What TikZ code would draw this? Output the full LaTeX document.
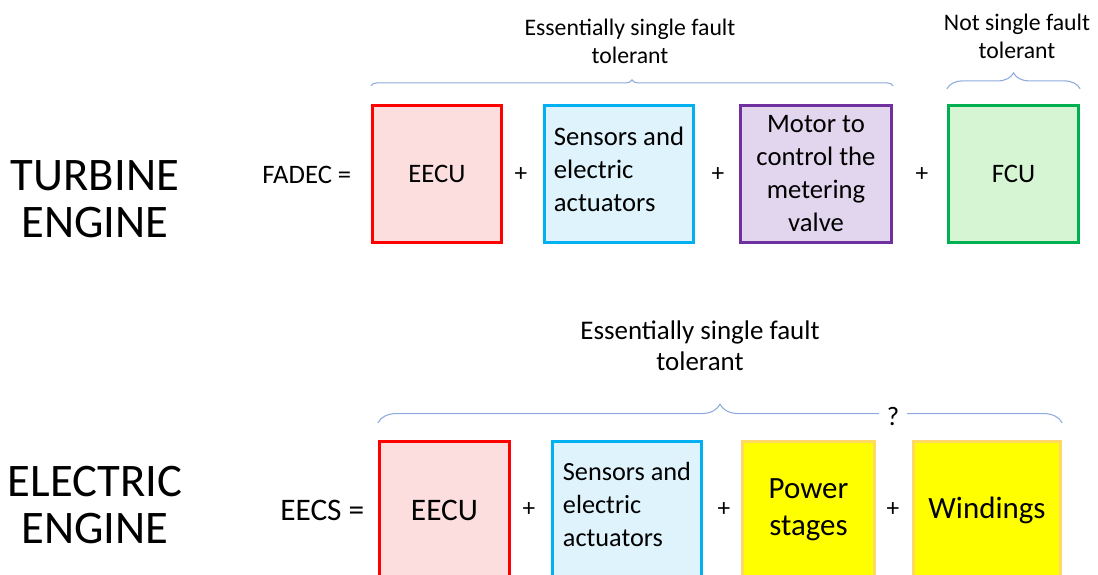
\documentclass[tikz,border=0pt]{standalone}
\usepackage{fontspec}
\setmainfont{Carlito}
\usetikzlibrary{decorations.pathreplacing}

\definecolor{redLine}{HTML}{FF0000}
\definecolor{redFill}{HTML}{FDDEDE}
\definecolor{cyanLine}{HTML}{00B0F0}
\definecolor{cyanFill}{HTML}{DEF3FB}
\definecolor{purpleLine}{HTML}{7030A0}
\definecolor{purpleFill}{HTML}{E2D5EE}
\definecolor{greenLine}{HTML}{00B050}
\definecolor{greenFill}{HTML}{D6F5D2}
\definecolor{yellowLine}{HTML}{FFD966}
\definecolor{yellowFill}{HTML}{FFFF00}
\definecolor{braceBlue}{HTML}{8FAADC}

\begin{document}
\begin{tikzpicture}[x=0.75pt,y=-0.75pt,
    box/.style={draw, line width=2.4pt, inner sep=0pt, minimum height=102.75pt},
    boxtxt/.style={font=\fontsize{20}{24.75}\selectfont},
    plus/.style={font=\fontsize{19}{22}\selectfont},
    engine/.style={align=center, font=\fontsize{35}{35}\selectfont},
    remark/.style={align=center, font=\fontsize{17.8}{21}\selectfont},
    bracket/.style={draw=braceBlue, line width=0.8pt, decorate}]
    \useasboundingbox (0,0) rectangle (1098,574);
    \clip (0,0) rectangle (1098,574);

    % turbine engine
    \node[engine] (turbine) at (95,199) {TURBINE\\ENGINE};
    \node[boxtxt, anchor=east] (fadec) at (356,175) {FADEC =};
    \node[box, boxtxt, draw=redLine, fill=redFill, minimum width=96.75pt] (eecuT) at (437,174) {EECU};
    \node[plus] (p1) at (521,175) {+};
    \node[box, draw=cyanLine, fill=cyanFill, minimum width=111.75pt,
          label={[boxtxt, align=left, yshift=3.8pt]center:{Sensors and\\electric\\actuators}}] (sensT) at (619,174) {};
    \node[plus] (p2) at (718,175) {+};
    \node[box, boxtxt, draw=purpleLine, fill=purpleFill, minimum width=113.25pt, align=center] (motorT) at (816,174) {Motor to\\control the\\metering\\valve};
    \node[plus] (p3) at (922,175) {+};
    \node[box, boxtxt, draw=greenLine, fill=greenFill, minimum width=97.5pt] (fcuT) at (1013.5,174) {FCU};

    \draw[bracket, decoration={brace, amplitude=4.5pt}] ([yshift=13.5pt]eecuT.north west) -- ([yshift=13.5pt]motorT.north east);
    \draw[bracket, decoration={brace, amplitude=12pt}] ([yshift=11.25pt]fcuT.north west) -- ([yshift=11.25pt]fcuT.north east);
    \node[remark] (tolT) at (630,41) {Essentially single fault\\tolerant};
    \node[remark] (tolF) at (1017,36) {Not single fault\\tolerant};

    % electric engine
    \node[engine] (electric) at (95,505) {ELECTRIC\\ENGINE};
    \node[font=\fontsize{23.5}{26}\selectfont, anchor=east] (eecs) at (369,510) {EECS =};
    \node[box, draw=redLine, fill=redFill, minimum width=97.5pt, font=\fontsize{23.5}{26}\selectfont] (eecuB) at (444.5,510) {EECU};
    \node[plus] (p4) at (529,510) {+};
    \node[box, draw=cyanLine, fill=cyanFill, minimum width=111.75pt,
          label={[font=\fontsize{19.7}{24.75}\selectfont, align=left, yshift=4.5pt]center:{Sensors and\\electric\\actuators}}] (sensB) at (627,510) {};
    \node[plus] (p5) at (724,510) {+};
    \node[box, draw=yellowLine, fill=yellowFill, minimum width=99pt, align=center, font=\fontsize{23.2}{27.75}\selectfont] (powerB) at (808.5,510) {Power\\stages};
    \node[plus] (p6) at (893,510) {+};
    \node[box, draw=yellowLine, fill=yellowFill, minimum width=110.25pt, font=\fontsize{23.2}{26}\selectfont] (windB) at (987,510) {Windings};

    \draw[bracket, decoration={brace, amplitude=14pt}] ([yshift=12.75pt]eecuB.north west) -- ([yshift=12.75pt]windB.north east);
    \node[fill=white, inner xsep=6pt, inner ysep=1pt, font=\fontsize{20}{22}\selectfont] (qmark) at (893,416) {?};
    \node[remark, font=\fontsize{20.2}{23.25}\selectfont] (tolB) at (700,346) {Essentially single fault\\tolerant};
\end{tikzpicture}
\end{document}
